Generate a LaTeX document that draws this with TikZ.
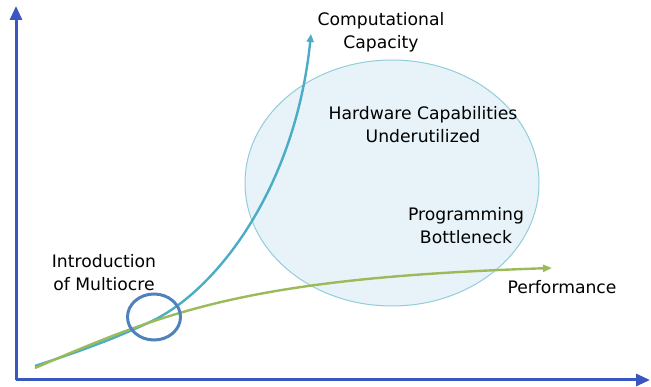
\documentclass[tikz,border=0pt]{standalone}
\usepackage{fontspec}
\setmainfont{DejaVu Sans}
\usetikzlibrary{arrows.meta,shapes.geometric}
\definecolor{axisblue}{HTML}{3A56C0}
\definecolor{capblue}{HTML}{4BACC6}
\definecolor{perfgreen}{HTML}{9BBB59}
\definecolor{ringblue}{HTML}{4F81BD}
\definecolor{cloudfill}{HTML}{E7F3F8}
\definecolor{cloudline}{HTML}{92CDDC}
\tikzset{
  axis/.style={draw=axisblue, line width=3pt, -{Triangle[length=14pt,width=12pt]}},
  label/.style={align=center, font=\fontsize{17.2}{23}\selectfont, text=black, inner sep=0pt},
}
\begin{document}
\begin{tikzpicture}[x=1pt,y=-1pt]
\useasboundingbox (0,0) rectangle (651,387);
% problem area
\node[draw=cloudline, fill=cloudfill, line width=1pt, ellipse, minimum width=294pt, minimum height=246pt, inner sep=0pt] (cloud) at (392,183) {};
% axes
\coordinate (origin) at (16,380);
\coordinate (ytop) at (16,6);
\coordinate (xend) at (650,380);
\draw[axis] (origin) -- (ytop);
\draw[axis] (origin) -- (xend);
% curves
\coordinate (s1) at (35,366);
\coordinate (knee) at (150,322);
\coordinate (capend) at (311,34);
\coordinate (s2) at (35,368);
\coordinate (perfend) at (552,268);
\draw[capblue, line width=2.4pt, -{Triangle[length=8pt,width=7pt]}]
  (s1) .. controls (90,348) and (120,336) .. (knee)
       .. controls (215,292) and (295,190) .. (capend);
\draw[perfgreen, line width=2.4pt, -{Triangle[length=9pt,width=7pt]}]
  (s2) .. controls (170,310) and (250,278) .. (perfend);
% ring marking the crossing
\node[draw=ringblue, line width=3pt, ellipse, minimum width=53pt, minimum height=46pt, inner sep=0pt] (ring) at (154,317) {};
% labels
\node[label] (cc) at (381,32) {Computational\\Capacity};
\node[label] (hw) at (423,125) {Hardware Capabilities\\Underutilized};
\node[label] (pb) at (466,226) {Programming\\Bottleneck};
\node[label] (im) at (104,273) {Introduction\\of Multiocre};
\node[label] (pf) at (562,287) {Performance};
\end{tikzpicture}
\end{document}
